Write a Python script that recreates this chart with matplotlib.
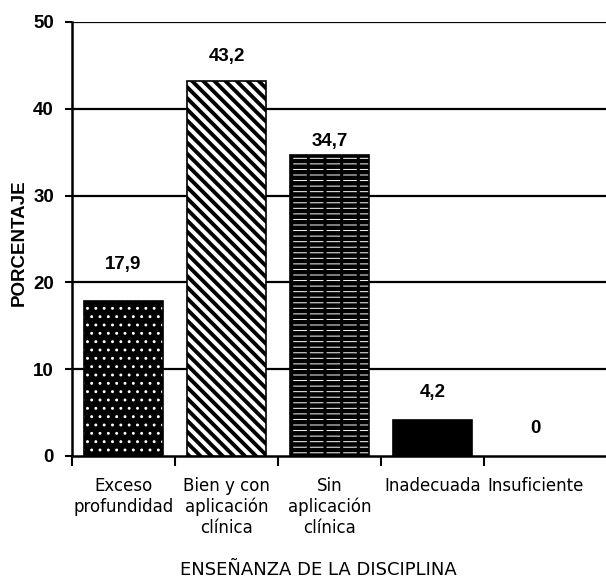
import matplotlib
matplotlib.use("Agg")
import matplotlib.pyplot as plt

categories = ["Exceso\nprofundidad", "Bien y con\naplicación\nclínica", "Sin\naplicación\nclínica", "Inadecuada", "Insuficiente"]
values = [17.9, 43.2, 34.7, 4.2, 0]
value_labels = ["17,9", "43,2", "34,7", "4,2", "0"]
yticks = [0, 10, 20, 30, 40, 50]

label_offsets = [4.2, 2.8, 1.5, 3.1, 3.2]

fig = plt.figure(figsize=(6.06, 5.80), dpi=100)
ax = fig.add_axes([72/606, 1 - 456/580, (606 - 72)/606, (456 - 22)/580])

x = list(range(len(categories)))
width = 0.77

def hbar(i, face, hcol, hatch, hlw, z=3):
    plt.rcParams['hatch.linewidth'] = hlw
    ax.bar(x[i], values[i], width=width, color=face, edgecolor=hcol,
           hatch=hatch, linewidth=0, zorder=z)

# bar 1: black with white dots
hbar(0, "black", "white", "..", 0.9)
# bar 2: white with black diagonal stripes
hbar(1, "white", "black", "\\\\\\", 2.8)
# bar 3: black with white dashes
hbar(2, "black", "white", "---", 0.7)
hbar(2, "none", "black", "|", 2.2, z=3.5)
# bar 4: solid black
hbar(3, "black", "black", None, 1.0)

for i, v in enumerate(values):
    if v > 0:
        ax.bar(x[i], v, width=width, fill=False, edgecolor="black", linewidth=1.2, zorder=4)

for i, v in enumerate(values):
    ax.text(x[i], v + label_offsets[i], value_labels[i], ha="center", va="center",
            fontsize=13.5, fontweight="bold", family="Liberation Sans")

ax.set_xlim(-0.5, (603 - 72) / 102.5 - 0.5)
ax.set_ylim(0, 50)
ax.set_yticks(yticks)
ax.set_yticklabels([str(t) for t in yticks], fontsize=13.5, fontweight="bold", family="Liberation Sans")
ax.set_xticks([i - 0.5 for i in range(len(categories))])
ax.set_xticklabels([])
ax.tick_params(axis="y", length=5, width=1.5, pad=8)
ax.tick_params(axis="x", length=7, width=1.5, direction="out")
for i, c in enumerate(categories):
    ax.text(x[i], -2.4, c, ha="center", va="top", fontsize=12, family="DejaVu Sans",
            linespacing=1.2, clip_on=False)

for t in yticks[1:]:
    ax.axhline(t, color="black", linewidth=1.6, zorder=1)

for s in ["top", "right"]:
    ax.spines[s].set_visible(False)
ax.spines["left"].set_linewidth(1.8)
ax.spines["bottom"].set_linewidth(1.8)

fig.text(19/606, 1 - 243/580, "PORCENTAJE", rotation=90, ha="center", va="center",
         fontsize=13.5, fontweight="bold", family="Liberation Sans")
fig.text(318/606, 1 - 570/580, "ENSEÑANZA DE LA DISCIPLINA", ha="center", va="center",
         fontsize=13, family="DejaVu Sans")

fig.savefig("out.png", dpi=100)
